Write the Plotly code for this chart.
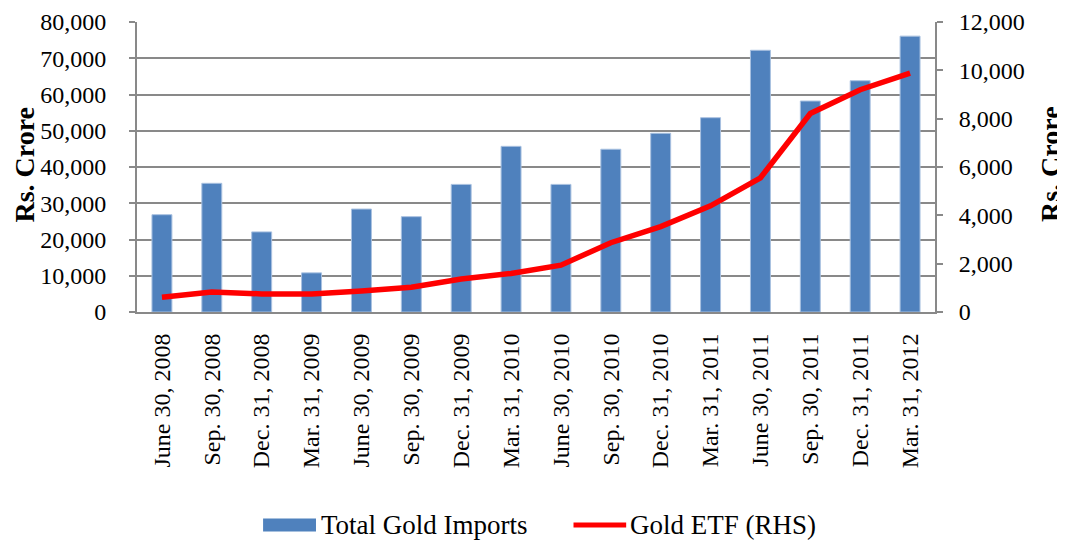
import plotly.graph_objects as go

categories = ["June 30, 2008", "Sep. 30, 2008", "Dec. 31, 2008", "Mar. 31, 2009",
              "June 30, 2009", "Sep. 30, 2009", "Dec. 31, 2009", "Mar. 31, 2010",
              "June 30, 2010", "Sep. 30, 2010", "Dec. 31, 2010", "Mar. 31, 2011",
              "June 30, 2011", "Sep. 30, 2011", "Dec. 31, 2011", "Mar. 31, 2012"]
gold_imports = [26840, 35500, 22100, 10800, 28400, 26300, 35200, 45700,
                35200, 44900, 49300, 53600, 72200, 58200, 63800, 76100]
gold_etf = [614, 831, 750, 750, 872, 1024, 1364, 1597,
            1937, 2867, 3534, 4394, 5553, 8215, 9198, 9883]
left_ticks = list(range(0, 80001, 10000))
right_ticks = list(range(0, 12001, 2000))
series_names = ["Total Gold Imports", "Gold ETF (RHS)"]

FONT = "Liberation Serif"
GRID = "#898989"
BAR_COLOR = "#4F81BD"
LINE_COLOR = "#FF0000"

fig = go.Figure()
fig.add_trace(go.Bar(
    x=categories, y=gold_imports, name=series_names[0],
    marker=dict(color=BAR_COLOR, line=dict(color="#A9C1E0", width=1)),
    yaxis="y"))
fig.add_trace(go.Scatter(
    x=categories, y=gold_etf, name=series_names[1], mode="lines",
    line=dict(color=LINE_COLOR, width=5.5), yaxis="y2"))

# legend drawn as a key below the plot (paper coordinates; plot height 290 px)
PH = 290.0
leg_y = -213.0 / PH
half = 6.5 / PH
shapes = [
    dict(type="rect", xref="paper", yref="paper", x0=0.158, x1=0.2243,
         y0=leg_y + half, y1=leg_y - half, fillcolor=BAR_COLOR, line=dict(width=0)),
    dict(type="line", xref="paper", yref="paper", x0=0.547, x1=0.613,
         y0=leg_y, y1=leg_y, line=dict(color=LINE_COLOR, width=5)),
]
annotations = [
    dict(text=series_names[0], xref="paper", yref="paper", x=0.2285, y=leg_y,
         xanchor="left", yanchor="middle", showarrow=False,
         font=dict(family=FONT, size=27)),
    dict(text=series_names[1], xref="paper", yref="paper", x=0.6155, y=leg_y,
         xanchor="left", yanchor="middle", showarrow=False,
         font=dict(family=FONT, size=27)),
    dict(text="<b>Rs. Crore</b>", textangle=-90, xref="paper", yref="paper",
         x=-0.141, y=0.51, xanchor="center", yanchor="middle", showarrow=False,
         font=dict(family=FONT, size=28)),
    dict(text="<b>Rs. Crore</b>", textangle=-90, xref="paper", yref="paper",
         x=1.144, y=0.51, xanchor="center", yanchor="middle", showarrow=False,
         font=dict(family=FONT, size=28)),
]

fig.update_layout(
    width=1065, height=544,
    margin=dict(l=129, r=138, t=14, b=240, autoexpand=False),
    paper_bgcolor="white", plot_bgcolor="white",
    bargap=0.6,
    font=dict(family=FONT, color="black", size=22),
    showlegend=False,
    xaxis=dict(type="category", tickangle=-90, showline=True, linecolor=GRID, linewidth=2,
               ticks="", tickfont=dict(family=FONT, size=24), showgrid=False,
               ticklabelstandoff=10),
    yaxis=dict(range=[0, 80000], tickvals=left_ticks, tickformat=",d",
               showline=True, linecolor=GRID, linewidth=2, ticks="outside", ticklen=6,
               tickcolor=GRID, tickwidth=2,
               showgrid=True, gridcolor=GRID, gridwidth=2, zeroline=False,
               tickfont=dict(family=FONT, size=24), ticklabelstandoff=18,
               ticklabeloverflow="allow"),
    yaxis2=dict(range=[0, 12000], tickvals=right_ticks, tickformat=",d",
                overlaying="y", side="right",
                showline=True, linecolor=GRID, linewidth=2, ticks="outside", ticklen=6,
                tickcolor=GRID, tickwidth=2, showgrid=False, zeroline=False,
                tickfont=dict(family=FONT, size=24), ticklabelstandoff=11,
                ticklabeloverflow="allow"),
    shapes=shapes,
    annotations=annotations,
)

fig.write_html("out.html")
